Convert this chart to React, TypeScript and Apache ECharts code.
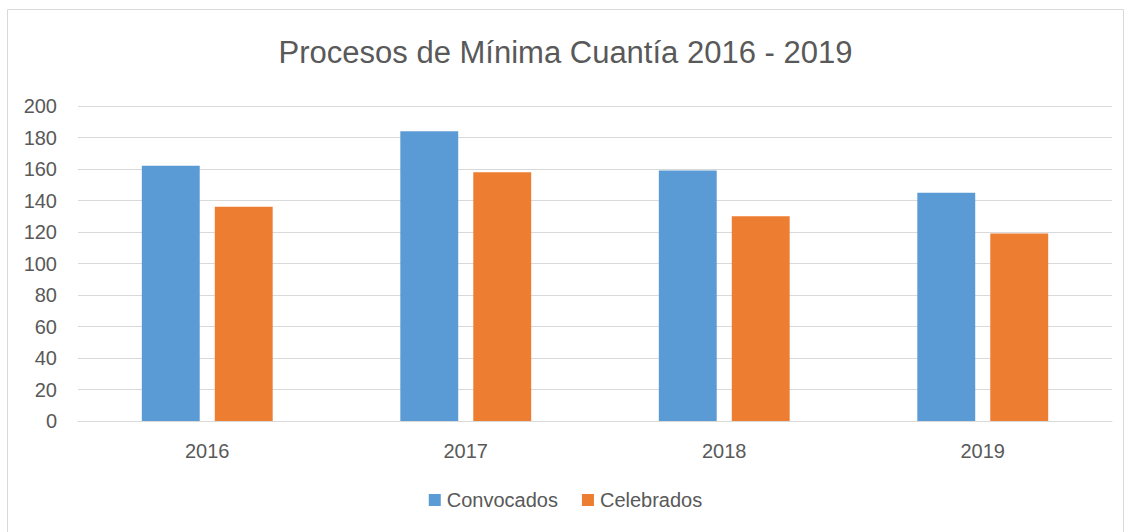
import React, { useEffect, useRef } from "react";
import * as echarts from "echarts";

const categories = ["2016", "2017", "2018", "2019"];
const convocados = [162, 184, 159, 145];
const celebrados = [136, 158, 130, 119];
const seriesNames = ["Convocados", "Celebrados"];
const title = "Procesos de Mínima Cuantía 2016 - 2019";

const FONT = "'Liberation Sans Narrow', 'Arial Narrow', 'Liberation Sans', sans-serif";

export default function App() {
  const ref = useRef<HTMLDivElement>(null);
  useEffect(() => {
    if (!ref.current) return;
    const chart = echarts.init(ref.current, null, { renderer: "svg" });
    chart.setOption({
      animation: false,
      backgroundColor: "#ffffff",
      textStyle: { fontFamily: FONT },
      title: {
        text: title,
        left: "center",
        top: 32,
        textStyle: { fontFamily: FONT, fontSize: 31, fontWeight: "normal", color: "#595959" },
      },
      graphic: [
        {
          type: "rect",
          shape: { x: 7.5, y: 9.5, width: 1116, height: 530 },
          style: { fill: "none", stroke: "#d9d9d9", lineWidth: 1 },
          silent: true,
        },
      ],
      legend: {
        bottom: 17,
        left: "center",
        itemWidth: 12,
        itemHeight: 12,
        itemGap: 24,
        icon: "rect",
        textStyle: { fontFamily: FONT, fontSize: 20, color: "#595959", padding: [0, 0, 0, 1] },
        data: seriesNames,
      },
      grid: { left: 78, right: 19, top: 106, bottom: 111, containLabel: false },
      xAxis: {
        type: "category",
        data: categories,
        axisLine: { lineStyle: { color: "#d9d9d9", width: 1 } },
        axisTick: { show: false },
        axisLabel: { fontFamily: FONT, fontSize: 20, color: "#595959", margin: 20 },
      },
      yAxis: {
        type: "value",
        min: 0,
        max: 200,
        interval: 20,
        axisLine: { show: false },
        axisTick: { show: false },
        splitLine: { lineStyle: { color: "#d9d9d9", width: 1 } },
        axisLabel: { fontFamily: FONT, fontSize: 20, color: "#595959", margin: 21 },
      },
      series: [
        {
          name: seriesNames[0],
          type: "bar",
          data: convocados,
          barWidth: "22.4%",
          barGap: "26%",
          itemStyle: { color: "#5b9bd5" },
        },
        {
          name: seriesNames[1],
          type: "bar",
          data: celebrados,
          barWidth: "22.4%",
          barGap: "26%",
          itemStyle: { color: "#ed7d31" },
        },
      ],
    });
    return () => chart.dispose();
  }, []);
  return (
    <div
      ref={ref}
      style={{ position: "fixed", left: 0, top: 0, width: 1131, height: 532, background: "#fff" }}
    />
  );
}
